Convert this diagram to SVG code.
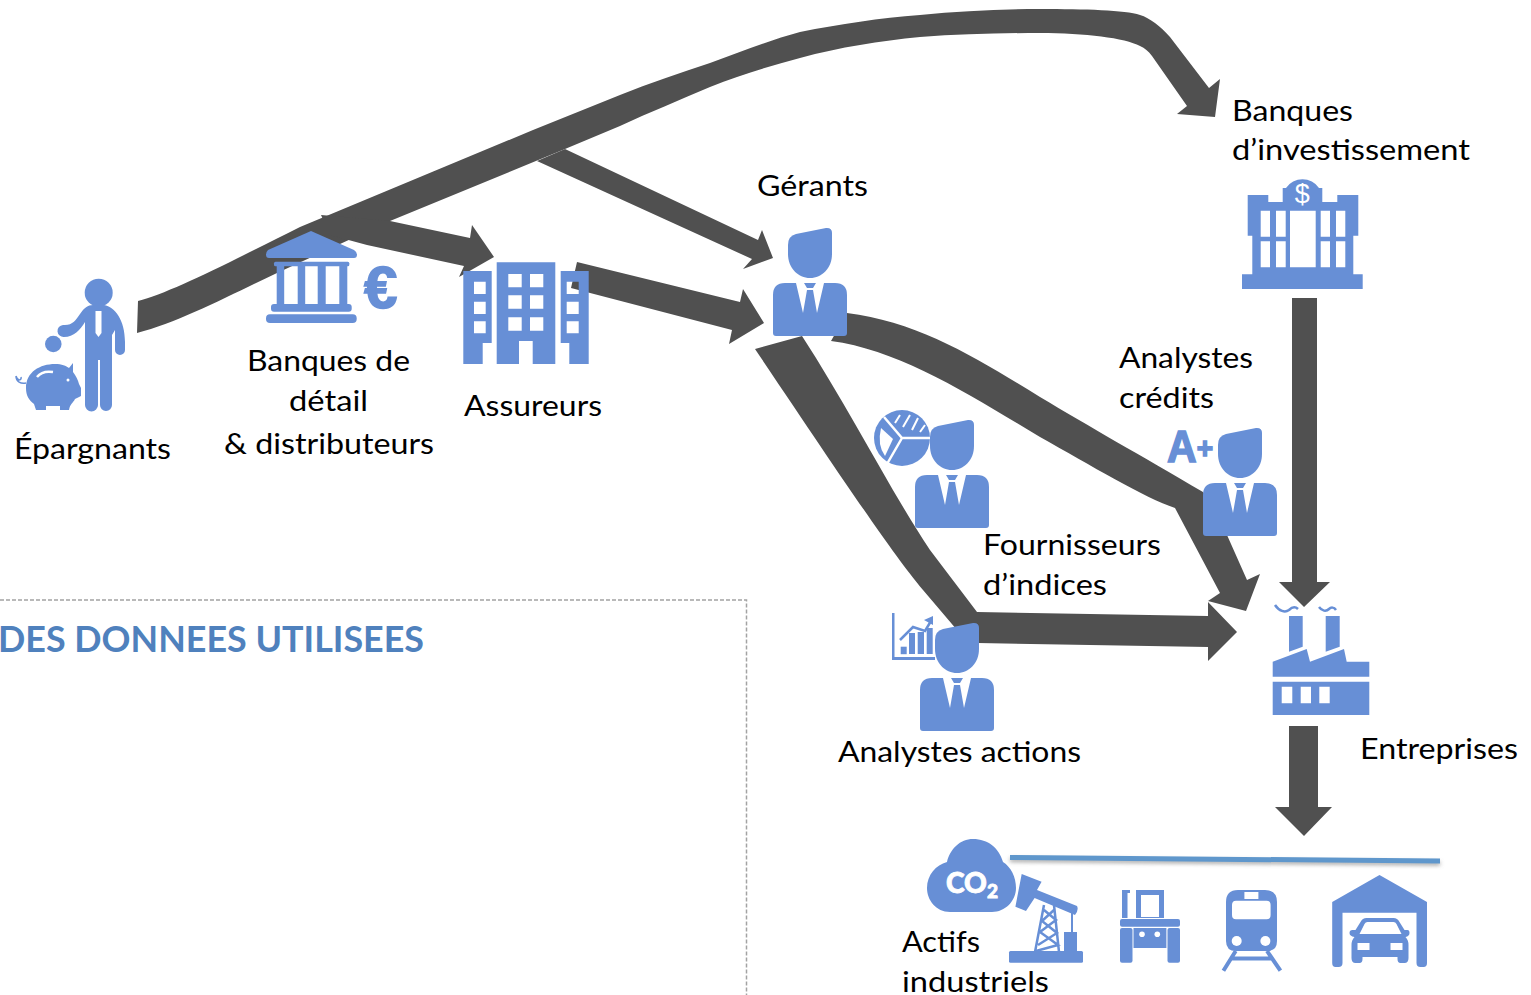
<svg xmlns="http://www.w3.org/2000/svg" xmlns:xlink="http://www.w3.org/1999/xlink" width="1531" height="995" viewBox="0 0 1531 995">
<style>
text{font-family:"Lato","Liberation Sans",sans-serif;font-size:29.5px;fill:#000}
.b{fill:#678fd6}
.ev{fill:#678fd6;fill-rule:evenodd}
.w{fill:#fff}
.c{fill:#505050}
.ws{fill:none;stroke:#fff}
.bs{fill:none;stroke:#678fd6}
</style>
<defs>
<g id="person">
<path class="b" d="M15,24V17Q15,8 23,6L53,0Q59,-.5 59,5V26C59,40 49,50 37,50C25,50 15,40 15,26Z"/>
<path class="b" d="M12,55H23L30,85L34,62H40L44,85L51,55H62Q74,55 74,67V105Q74,108 71,108H3Q0,108 0,105V67Q0,55 12,55Z"/>
<path class="b" d="M31,55H43L40,60H34Z"/>
</g>
<filter id="sh" x="-5%" y="-500%" width="110%" height="1100%"><feGaussianBlur stdDeviation="2"/></filter>
</defs>
<rect width="1531" height="995" fill="#fff"/>

<g id="box">
<path d="M0,600H746.500V995" fill="none" stroke="#a3a3a3" stroke-width="1.500" stroke-dasharray="4 2"/>
<text x="-2" y="652" textLength="426" lengthAdjust="spacingAndGlyphs" style="font-size:36px;font-weight:700;fill:#4f81bd">DES DONNEES UTILISEES</text>
</g>

<g id="connectors">
<path class="c" d="M138,301C170,293 230,262 300,227L533,130L620,95C650,83 680,73 710,63C740,52 770,40 800,32C840,24 880,18 920,15C960,11 1000,9 1040,9C1085,9 1125,10 1140,15C1150,18 1160,26 1170,37L1209,88L1220,79L1215,117L1177,114L1187,106L1152,56C1148,51 1145,48 1140,46C1125,38 1085,33 1040,33C1000,33 960,34 920,37C880,41 840,47 800,58C770,66 740,75 710,87C680,100 650,112 620,126L565,149L390,221L277,273C230,295 180,322 137,333Z"/>
<path class="c" d="M565,149L758,240L762,230L773,258L743,269L752,259L537,161Z"/>
<path class="c" d="M321,215L390,221L470,238L472,225L494,257L459,277L464,266L367,245L330,235Z"/>
<path class="c" d="M577,262L740,302L743,289L764,323L729,344L732,330L571,288Z"/>
<path class="c" d="M847,313C920,322 980,360 1040,397C1090,427 1140,455 1203,492L1227,535L1247,580L1260,574L1246,611L1208,601L1220,593L1175,508C1145,498 1090,465 1040,437C970,395 900,350 831,341Z"/>
<path class="c" d="M802,336C850,410 890,490 930,550L977,612L1208,616V602L1237,632L1208,661V647L978,643L957,630L923,590C890,550 850,490 755,349Z"/>
<path class="c" d="M1292,298H1317V582H1330L1304,607L1279,582H1292Z"/>
<path class="c" d="M1289,726H1318V807H1332L1304,836L1275,807H1289Z"/>
</g>

<g id="epargnants">
<circle class="b" cx="98.700" cy="292.700" r="14"/>
<path class="b" d="M93,305H104C115,307 125,320 125,342V350A5,5 0 0 1 115,350V330L112,335V357V405A6,6 0 0 1 100,405V360H98V405A6,6 0 0 1 85,405V357V322C80,330 74,337 64,337A6,6 0 0 1 63,325C72,326 76,320 80,314C84,308 88,305 93,305Z"/>
<path class="w" d="M95.500,311H101.500V333L98.500,337L95.500,333Z"/>
<circle class="b" cx="53.300" cy="344" r="8.300"/>
<path class="b" d="M26,388C26,372 40,364 55,364C62,364 66,366 69,368L73,363L73,372C76,376 78,380 79,384L81,388V396L75,399C73,403 70,404 69,410H60V406H46V410H36L34,404C29,400 26,396 26,388Z"/>
<path class="ws" d="M37,377C41,372 47,371 53,372" stroke-width="2.500"/>
<circle class="w" cx="68" cy="380" r="1.500"/>
<path class="bs" d="M26,383C21,384 16,382 16,376M16,376C18,382 22,380 21,377" stroke-width="1.500"/>
<text x="14" y="459" textLength="157" lengthAdjust="spacingAndGlyphs">Épargnants</text>
</g>

<g id="banques-detail">
<path class="b" d="M311,231L354,250Q357,252 357,254.500Q357,258 354,258H269Q266,258 266,254.500Q266,252 268,250Z"/>
<rect class="b" x="274" y="261.700" width="75.300" height="4.500" rx="1.500"/>
<rect class="b" x="276.700" y="266" width="7.500" height="39"/>
<rect class="b" x="297.700" y="266" width="7.500" height="39"/>
<rect class="b" x="317.700" y="266" width="8" height="39"/>
<rect class="b" x="339.300" y="266" width="8" height="39"/>
<rect class="b" x="271" y="304" width="80.700" height="7.700" rx="3"/>
<rect class="b" x="266" y="314.300" width="90.700" height="8.700" rx="4"/>
<text x="364" y="308" style="font-family:'Liberation Sans',sans-serif;font-size:60px;font-weight:700;fill:#678fd6;stroke:#678fd6;stroke-width:1.500">€</text>
<text x="247" y="371" textLength="163" lengthAdjust="spacingAndGlyphs">Banques de</text>
<text x="289" y="411" textLength="79" lengthAdjust="spacingAndGlyphs">détail</text>
<text x="224" y="454" textLength="210" lengthAdjust="spacingAndGlyphs">&amp; distributeurs</text>
</g>

<g id="assureurs">
<path class="ev" d="M496.700,262.300H555.300V364H532.700V341H519V364H496.700ZM508.300,274V287.300H521.700V274ZM530,274V287.300H543.300V274ZM508.300,295.300V308.700H521.700V295.300ZM530,295.300V308.700H543.300V295.300ZM508.300,317.300V330.700H521.700V317.300ZM530,317.300V330.700H543.300V317.300Z"/>
<path class="ev" d="M463.300,271H491.700V343H482.700V364H463.300ZM474,281.700V294H485.700V281.700ZM474,301.700V314H485.700V301.700ZM474,321.300V333.300H485.700V321.300Z"/>
<path class="ev" d="M560.700,271H588.700V364H569.300V343H560.700ZM566.700,281.700V294H578.700V281.700ZM566.700,301.700V314H578.700V301.700ZM566.700,321.300V333.300H578.700V321.300Z"/>
<text x="464" y="416" textLength="138" lengthAdjust="spacingAndGlyphs">Assureurs</text>
</g>

<g id="gerants">
<use href="#person" xlink:href="#person" transform="translate(773,228)"/>
<text x="757" y="196" textLength="111" lengthAdjust="spacingAndGlyphs">Gérants</text>
</g>

<g id="fournisseurs-indices">
<circle class="b" cx="902" cy="438" r="28"/>
<path class="w" d="M881,428L893,439L885,456Q877,445 881,428Z"/>
<path class="ws" d="M884,417L902,438H930M902,438L887,464" stroke-width="2.500"/>
<path class="ws" d="M895,423L900,415M903,427L910,415M912,430L918,418M920,432L925,425" stroke-width="2"/>
<use href="#person" xlink:href="#person" transform="translate(915,420)"/>
<text x="983" y="555" textLength="178" lengthAdjust="spacingAndGlyphs">Fournisseurs</text>
<text x="983" y="595" textLength="124" lengthAdjust="spacingAndGlyphs">d’indices</text>
</g>

<g id="analystes-credits">
<text x="1167" y="462" style="font-family:'Liberation Sans',sans-serif;font-size:44px;font-weight:700;fill:#678fd6;stroke:#678fd6;stroke-width:1.500" textLength="46" lengthAdjust="spacingAndGlyphs">A<tspan style="font-size:30px" dy="-4">+</tspan></text>
<use href="#person" xlink:href="#person" transform="translate(1203,428)"/>
<text x="1119" y="368" textLength="134" lengthAdjust="spacingAndGlyphs">Analystes</text>
<text x="1119" y="408" textLength="95" lengthAdjust="spacingAndGlyphs">crédits</text>
</g>

<g id="analystes-actions">
<path class="b" d="M892,613H894.500V657H935V660H892Z"/>
<rect class="b" x="900.700" y="646.700" width="6" height="7.500"/>
<rect class="b" x="909" y="633" width="6" height="21"/>
<rect class="b" x="917.700" y="632" width="6.300" height="22"/>
<rect class="b" x="926.700" y="628" width="6" height="26"/>
<path class="bs" d="M900,640L913,627L925,631L931,621" stroke-width="2.500"/>
<path class="b" d="M924,620L933,616V625Z"/>
<use href="#person" xlink:href="#person" transform="translate(920,623)"/>
<text x="838" y="762" textLength="243" lengthAdjust="spacingAndGlyphs">Analystes actions</text>
</g>

<g id="banques-investissement">
<path class="ev" d="M1242,274.300H1252.300V235.700H1247.700V195H1268.300V202H1282.700V188H1286A20,20 0 0 1 1319,188H1322.300V202H1337.300V195H1358.300V235.700H1353.300V274.300H1362.700V289H1242ZM1260.700,210.700V236.700H1270V210.700ZM1276,210.700V236.700H1285.700V210.700ZM1260.700,241.300V267.300H1270V241.300ZM1276,241.300V267.300H1285.700V241.300ZM1290,210.700V267.300H1315.700V210.700ZM1320.700,210.700V236.700H1330V210.700ZM1336,210.700V236.700H1345.300V210.700ZM1320.700,241.300V267.300H1330V241.300ZM1336,241.300V267.300H1345.300V241.300Z"/>
<text x="1302.300" y="203" text-anchor="middle" style="font-size:27px;fill:#fff;font-family:'Liberation Sans',sans-serif">$</text>
<text x="1232" y="121" textLength="121" lengthAdjust="spacingAndGlyphs">Banques</text>
<text x="1232" y="160" textLength="238" lengthAdjust="spacingAndGlyphs">d’investissement</text>
</g>

<g id="entreprises">
<path class="b" d="M1289,616H1302.700V646.700L1289,651.700Z"/>
<path class="b" d="M1325.700,616H1339.700V646.700L1325.700,651.700Z"/>
<path class="b" d="M1272.700,661.700L1306.700,649L1310,661.700L1344,649L1346.700,661.700H1369.300V676.700H1272.700Z"/>
<path class="ev" d="M1272.700,681.700H1369.300V715H1272.700ZM1281.700,686.700V703.300H1292.300V686.700ZM1300.700,686.700V703.300H1311V686.700ZM1319.300,686.700V703.300H1329.700V686.700Z"/>
<path class="bs" d="M1275,605C1279,611 1285,613 1289,610C1292,607 1295,606 1298,609" stroke-width="2.500"/>
<path class="bs" d="M1319,607C1322,611 1326,612 1329,609C1331,607 1334,607 1336,610" stroke-width="2.500"/>
<text x="1360" y="759" textLength="158" lengthAdjust="spacingAndGlyphs">Entreprises</text>
</g>

<g id="actifs-industriels">
<path d="M1010,860L1440,863.500" stroke="#888" stroke-width="3" filter="url(#sh)" fill="none"/>
<path d="M1010,857.500L1440,861" stroke="#5f97cc" stroke-width="5" fill="none"/>
<path class="b" d="M950,912C936,912 927,900 927,888C927,875 936,865 947,862C950,849 960,839 973,839C988,839 999,848 1003,862C1011,867 1016,877 1016,888C1016,901 1005,912 992,912Z"/>
<text x="946" y="893" style="font-size:28px;font-weight:900;fill:#fff;stroke:#fff;stroke-width:.8" textLength="52" lengthAdjust="spacingAndGlyphs">CO<tspan dy="5" style="font-size:19px">2</tspan></text>
<path class="b" d="M1021.700,874L1041.600,881.700L1037,890L1077,906Q1079,910 1075,915L1034.600,898L1026,911L1015.400,906.700Z"/>
<path class="bs" d="M1044,905L1035,952M1054,905L1059,952M1044,910L1056,920L1040,932L1058,945L1036,951M1054,910L1042,921L1057,933L1038,945" stroke-width="2.500"/>
<path class="bs" d="M1072,912V933" stroke-width="2"/>
<rect class="b" x="1064" y="932" width="13" height="20"/>
<rect class="b" x="1009" y="951" width="74" height="11.700" rx="1.500"/>
<path class="ev" d="M1136,890H1164V918H1136ZM1141,895V917H1159V895Z"/>
<path class="b" d="M1122,890H1130V893H1127.500V918H1122Z"/>
<rect class="b" x="1120" y="919" width="60" height="7.700" rx="2"/>
<rect class="b" x="1120" y="928" width="12.500" height="34.700" rx="2"/>
<rect class="b" x="1167.500" y="928" width="12.500" height="34.700" rx="2"/>
<path class="b" d="M1133.500,928H1166.400V948H1133.500Z"/>
<circle class="w" cx="1142" cy="934.300" r="2.800"/>
<circle class="w" cx="1157.300" cy="934.300" r="2.800"/>
<path class="ev" d="M1238,890H1265Q1277,890 1277,902V941Q1277,951 1267,951H1236Q1226,951 1226,941V902Q1226,890 1238,890ZM1236,900.700Q1232,900.700 1232,905V915Q1232,919.300 1236,919.300H1266.600Q1270.600,919.300 1270.600,915V905Q1270.600,900.700 1266.600,900.700ZM1244.400,892V899H1258.400V892Z"/>
<circle class="w" cx="1236.700" cy="941" r="5"/>
<circle class="w" cx="1265.400" cy="941" r="5"/>
<path class="bs" d="M1235.700,951L1223.400,970.700M1267,951L1280.400,970.700M1232,958.500H1271" stroke-width="4"/>
<g transform="translate(1.500,0)">
<path class="b" d="M1378,875L1425.500,902V963Q1425.500,967 1422,967H1419Q1415,967 1415,963V912.700H1341V963Q1341,967 1337,967H1334Q1330.700,967 1330.700,963V902Z"/>
<path class="ev" d="M1365,918H1392Q1396,918 1398,922L1403,930H1406Q1408,930 1408,933Q1408,936 1404,937Q1407,940 1407,945V958Q1407,963 1403,963H1399Q1396,963 1396,959V957H1361V959Q1361,963 1358,963H1354Q1350,963 1350,958V945Q1350,940 1353,937Q1348,936 1348,933Q1348,930 1351,930H1354L1359,922Q1361,918 1365,918ZM1366,922Q1364,922 1363,924L1358,934H1400L1395,924Q1394,922 1392,922ZM1356,943V950H1368V943ZM1389,943V950H1401V943Z"/>
</g>
<text x="902" y="952" textLength="78" lengthAdjust="spacingAndGlyphs">Actifs</text>
<text x="902" y="992" textLength="147" lengthAdjust="spacingAndGlyphs">industriels</text>
</g>
</svg>
